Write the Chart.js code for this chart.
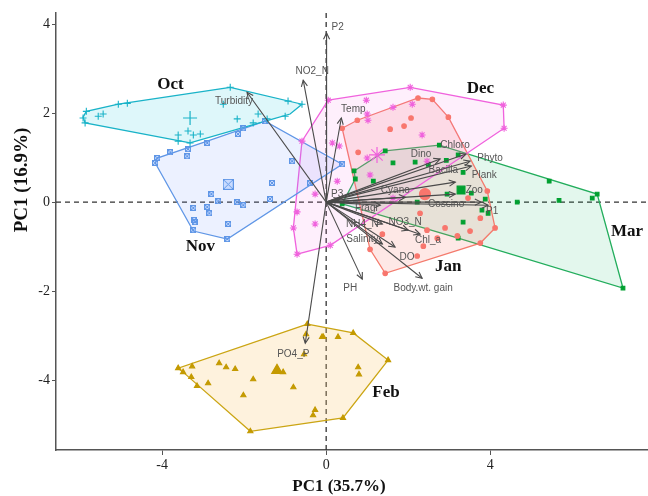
<!DOCTYPE html>
<html>
<head>
<meta charset="utf-8">
<script src="https://cdn.jsdelivr.net/npm/chart.js@4.4.0/dist/chart.umd.min.js"></script>
<style>
  html, body { margin: 0; padding: 0; background: #fff; }
  #wrap { width: 648px; height: 496px; }
</style>
</head>
<body>
<div id="wrap"><canvas id="pcaChart" width="648" height="496"></canvas></div>
<script>
// PCA scores per sampling month, [PC1, PC2]
const octPts = [[-5.56,1.93],[-5.44,1.98],[-5.07,2.20],[-4.85,2.22],[-3.61,1.51],[-3.37,1.60],[-3.24,1.51],[-3.07,1.53],[-3.61,1.37],[-2.51,2.20],[-2.17,1.87],[-1.78,1.78],[-1.66,1.98],[-1.44,1.87],[-1.00,1.93],[-0.93,2.27],[-0.59,2.20],[-2.34,2.58],[-5.93,1.89],[-5.88,1.78],[-5.85,2.04],[-3.32,1.33]];
const novPts = [[-4.17,0.88],[-4.12,0.99],[-3.80,1.12],[-3.39,1.03],[-3.37,1.19],[-2.90,1.33],[-2.15,1.53],[-2.02,1.66],[-1.49,1.82],[-0.83,0.92],[-1.32,0.43],[-2.80,0.18],[-2.63,0.02],[-2.17,0.00],[-2.02,-0.07],[-1.37,0.07],[-3.24,-0.13],[-2.90,-0.11],[-2.85,-0.25],[-3.22,-0.40],[-3.20,-0.45],[-2.39,-0.49],[-3.24,-0.63],[-2.41,-0.83],[-0.39,0.43],[0.39,0.85]];
const decPts = [[2.05,2.58],[0.05,2.29],[0.98,2.29],[1.63,2.13],[2.10,2.20],[1.00,1.98],[1.02,1.84],[4.32,2.18],[4.34,1.66],[2.34,1.51],[0.15,1.33],[0.32,1.26],[1.00,0.99],[2.46,0.92],[-0.59,1.37],[1.07,0.61],[0.27,0.47],[-0.27,0.18],[1.63,0.09],[-0.71,-0.22],[-0.80,-0.58],[-0.27,-0.49],[0.10,-0.97],[-0.71,-1.17]];
const janPts = [[0.39,1.66],[0.76,1.84],[1.56,1.64],[1.90,1.71],[2.07,1.89],[2.24,2.34],[2.59,2.31],[2.98,1.91],[0.78,1.12],[3.93,0.25],[4.12,-0.58],[3.46,0.09],[2.29,-0.25],[2.90,-0.58],[3.51,-0.65],[2.46,-0.63],[3.76,-0.92],[3.20,-0.76],[1.37,-0.72],[2.37,-0.99],[2.22,-1.21],[1.44,-1.60],[1.07,-1.06],[3.76,-0.36],[2.71,-0.81]];
const febPts = [[-0.46,-2.74],[-0.49,-2.97],[-0.10,-3.03],[-0.07,-3.03],[0.29,-3.03],[0.66,-2.94],[1.51,-3.55],[0.78,-3.71],[0.80,-3.87],[0.41,-4.85],[-0.27,-4.67],[-0.32,-4.79],[-1.85,-5.15],[-3.61,-3.73],[-3.49,-3.82],[-3.27,-3.69],[-3.29,-3.93],[-3.15,-4.13],[-2.88,-4.07],[-2.61,-3.62],[-2.44,-3.71],[-2.22,-3.75],[-1.05,-3.82],[-1.78,-3.98],[-2.02,-4.34],[-0.80,-4.16],[-0.54,-3.42]];
const marPts = [[1.44,1.15],[2.76,1.28],[1.63,0.88],[2.17,0.90],[2.49,0.85],[2.93,0.94],[3.22,1.06],[3.34,0.67],[0.68,0.70],[0.71,0.52],[1.15,0.47],[2.95,0.18],[3.54,0.20],[2.22,0.00],[0.39,-0.04],[3.88,0.07],[3.80,-0.18],[3.95,-0.25],[3.34,-0.45],[3.22,-0.81],[4.66,0.00],[5.44,0.47],[5.68,0.04],[6.49,0.09],[6.61,0.18],[7.24,-1.93]];

// convex hulls (closed)
const octHull = [[-2.34,2.58],[-0.59,2.20],[-0.88,1.98],[-1.29,1.87],[-3.32,1.33],[-5.88,1.78],[-5.93,1.91],[-5.85,2.04],[-5.07,2.20],[-2.34,2.58]];
const novHull = [[-4.17,0.88],[-4.12,0.99],[-2.90,1.37],[-1.49,1.82],[0.39,0.85],[-2.41,-0.83],[-3.24,-0.65],[-4.17,0.88]];
const decHull = [[0.05,2.29],[2.05,2.58],[4.32,2.18],[4.34,1.66],[0.10,-0.97],[-0.71,-1.17],[-0.80,-0.58],[-0.59,1.37],[0.05,2.29]];
const janHull = [[0.39,1.66],[0.76,1.84],[2.24,2.34],[2.59,2.31],[2.98,1.91],[3.93,0.25],[4.12,-0.58],[3.76,-0.92],[1.44,-1.60],[1.07,-1.06],[0.39,1.66]];
const febHull = [[-0.46,-2.74],[0.66,-2.94],[1.51,-3.55],[0.41,-4.85],[-1.85,-5.15],[-3.49,-3.82],[-3.61,-3.73],[-0.46,-2.74]];
const marHull = [[0.68,0.70],[1.44,1.15],[2.76,1.28],[6.61,0.18],[7.24,-1.93],[3.22,-0.81],[0.39,-0.04],[0.71,0.52],[0.68,0.70]];

// group means
const groupMeans = { Oct: [-3.32,1.89], Nov: [-2.39,0.40], Dec: [1.24,1.06], Jan: [2.41,0.18], Feb: [-1.20,-3.78], Mar: [3.29,0.27] };
const groupLabelAt = { Oct: [-3.80,2.65], Nov: [-3.07,-0.99], Dec: [3.76,2.56], Jan: [2.98,-1.44], Feb: [1.46,-4.29], Mar: [7.34,-0.67] };

// variable loadings (arrow tips)
const varNames = ['P2','NO2_N','Turbidity','Temp','Dino','Chloro','Phyto','Bacilla','Plank','Zoo','Coscino','P1','Cyano','P3','Fragi','NH4_N','NO3_N','Chl_a','Salinity','DO','Body.wt. gain','PH','PO4_P'];
const varTips = [[0.01,3.80],[-0.56,2.74],[-1.93,2.47],[0.37,1.89],[2.78,0.97],[3.41,1.08],[3.51,0.92],[3.54,0.81],[3.15,0.45],[3.15,0.18],[3.78,0.00],[3.95,-0.07],[1.93,0.11],[0.34,0.07],[1.32,-0.07],[1.37,-0.49],[2.00,-0.63],[2.29,-0.72],[1.37,-0.94],[1.68,-1.01],[2.34,-1.71],[0.88,-1.73],[-0.51,-3.17]];

const xTicks = [-4, 0, 4];
const yTicks = [-4, -2, 0, 2, 4];

// label nudges in px from arrow tip
const labelNudge = [[11,-6],[9,-9],[-13,9],[12,-9],[-19,-5],[-11,-9],[20,-3],[-28,4],[29,-7],[19,-4],[-35,2],[4,6],[-10,-7],[-3,-5],[-14,3],[-20,0],[-3,-8],[8,6],[-20,-5],[12,10],[1,10],[-12,9],[-12,11]];

const toXY = arr => arr.map(p => ({ x: p[0], y: p[1] }));

function boxCross(size, color) {
	const c = document.createElement('canvas');
	c.width = size; c.height = size;
	const g = c.getContext('2d');
	g.fillStyle = 'rgba(97,156,255,0.25)';
	g.fillRect(0, 0, size, size);
	g.strokeStyle = color;
	g.lineWidth = 1;
	g.strokeRect(0.5, 0.5, size - 1, size - 1);
	g.beginPath();
	g.moveTo(1, 1); g.lineTo(size - 1, size - 1);
	g.moveTo(size - 1, 1); g.lineTo(1, size - 1);
	g.stroke();
	return c;
}

const groups = [
	{ name: 'Oct', pts: octPts, hull: octHull, line: '#19B3C8', fill: 'rgba(0,190,215,0.13)', mark: '#19B3C8', style: 'cross', r: 3.5, rm: 7 },
	{ name: 'Nov', pts: novPts, hull: novHull, line: '#5F96E6', fill: 'rgba(97,140,255,0.12)', mark: '#5F96E6', style: boxCross(6, '#5F96E6'), r: 3, rm: 0, big: boxCross(11, '#5F96E6') },
	{ name: 'Dec', pts: decPts, hull: decHull, line: '#F062DD', fill: 'rgba(245,100,227,0.10)', mark: '#F062DD', style: 'star', r: 3.5, rm: 8 },
	{ name: 'Jan', pts: janPts, hull: janHull, line: '#F47A6C', fill: 'rgba(248,118,109,0.17)', mark: '#F8766D', style: 'circle', r: 2.3, rm: 5.5 },
	{ name: 'Feb', pts: febPts, hull: febHull, line: '#CBA513', fill: 'rgba(250,205,120,0.25)', mark: '#C49A00', style: 'triangle', r: 3, rm: 6 },
	{ name: 'Mar', pts: marPts, hull: marHull, line: '#22AD5C', fill: 'rgba(0,186,90,0.11)', mark: '#00A030', style: 'rect', r: 2.6, rm: 5.5 }
];

const datasets = [];
groups.forEach(g => {
	datasets.push({
		data: toXY(g.hull), showLine: true, fill: 'shape',
		borderColor: g.line, backgroundColor: g.fill, borderWidth: 1.3,
		pointRadius: 0, order: 10
	});
	datasets.push({
		data: toXY(g.pts), pointStyle: g.style, pointRadius: g.r,
		borderColor: g.mark, backgroundColor: g.mark, borderWidth: 1.1, order: 3
	});
	datasets.push({
		data: toXY([groupMeans[g.name]]), pointStyle: g.big || g.style, pointRadius: g.rm || 6,
		borderColor: g.mark, backgroundColor: g.mark, borderWidth: 1.2, order: 3
	});
});
varTips.forEach(t => {
	datasets.push({
		data: [{ x: 0, y: 0 }, { x: t[0], y: t[1] }], showLine: true,
		borderColor: '#4a4a4a', borderWidth: 1.1, pointRadius: 0, order: 1
	});
});

const biplotExtras = {
	id: 'biplotExtras',
	beforeDatasetsDraw(chart) {
		const { ctx, chartArea: a, scales: { x, y } } = chart;
		const x0 = x.getPixelForValue(0), y0 = y.getPixelForValue(0);
		ctx.save();
		ctx.strokeStyle = '#333';
		ctx.lineWidth = 1.3;
		ctx.setLineDash([5, 4]);
		ctx.beginPath();
		ctx.moveTo(a.left, y0); ctx.lineTo(a.right, y0);
		ctx.moveTo(x0, a.top); ctx.lineTo(x0, a.bottom);
		ctx.stroke();
		ctx.restore();
	},
	afterDatasetsDraw(chart) {
		const { ctx, scales: { x, y } } = chart;
		const ox = x.getPixelForValue(0), oy = y.getPixelForValue(0);
		ctx.save();
		// arrow heads
		ctx.strokeStyle = '#4a4a4a';
		ctx.lineWidth = 1.1;
		varTips.forEach(t => {
			const tx = x.getPixelForValue(t[0]), ty = y.getPixelForValue(t[1]);
			const ang = Math.atan2(ty - oy, tx - ox);
			ctx.beginPath();
			ctx.moveTo(tx - 7 * Math.cos(ang - 0.45), ty - 7 * Math.sin(ang - 0.45));
			ctx.lineTo(tx, ty);
			ctx.lineTo(tx - 7 * Math.cos(ang + 0.45), ty - 7 * Math.sin(ang + 0.45));
			ctx.stroke();
		});
		// variable labels
		ctx.fillStyle = '#555';
		ctx.font = '10px "Liberation Sans", Arial, sans-serif';
		ctx.textAlign = 'center';
		ctx.textBaseline = 'middle';
		varNames.forEach((n, i) => {
			const tx = x.getPixelForValue(varTips[i][0]), ty = y.getPixelForValue(varTips[i][1]);
			ctx.fillText(n, tx + labelNudge[i][0], ty + labelNudge[i][1]);
		});
		// group labels
		ctx.fillStyle = '#111';
		ctx.font = 'bold 17px "Liberation Serif", "Times New Roman", serif';
		Object.keys(groupLabelAt).forEach(k => {
			const p = groupLabelAt[k];
			ctx.fillText(k, x.getPixelForValue(p[0]), y.getPixelForValue(p[1]));
		});
		ctx.restore();
	},
	afterDraw(chart) {
		const { ctx } = chart;
		ctx.save();
		ctx.fillStyle = '#111';
		ctx.font = 'bold 17px "Liberation Serif", "Times New Roman", serif';
		ctx.textAlign = 'center';
		ctx.textBaseline = 'middle';
		ctx.fillText('PC1 (35.7%)', 339, 487);
		ctx.font = 'bold 19px "Liberation Serif", "Times New Roman", serif';
		ctx.translate(22, 180);
		ctx.rotate(-Math.PI / 2);
		ctx.fillText('PC1 (16.9%)', 0, 0);
		ctx.restore();
	}
};

const tickFont = { family: '"Liberation Serif", "Times New Roman", serif', size: 14 };

new Chart(document.getElementById('pcaChart').getContext('2d'), {
	type: 'scatter',
	data: { datasets: datasets },
	options: {
		responsive: false,
		animation: false,
		layout: { autoPadding: false, padding: { top: 13, right: 0, left: 0, bottom: 0 } },
		plugins: { legend: { display: false }, tooltip: { enabled: false } },
		scales: {
			x: {
				type: 'linear', min: -6.59, max: 7.85,
				afterBuildTicks: s => { s.ticks = xTicks.map(v => ({ value: v })); },
				afterFit: s => { s.height = 46; },
				ticks: { font: tickFont, color: '#222', padding: 2 },
				grid: { drawOnChartArea: false, tickLength: 5, color: '#555' },
				border: { color: '#555', width: 1.5 }
			},
			y: {
				type: 'linear', min: -5.57, max: 4.25,
				afterBuildTicks: s => { s.ticks = yTicks.map(v => ({ value: v })); },
				afterFit: s => { s.width = 56; },
				ticks: { font: tickFont, color: '#222', padding: 2 },
				grid: { drawOnChartArea: false, tickLength: 4, color: '#555' },
				border: { color: '#555', width: 1.5 }
			}
		}
	},
	plugins: [biplotExtras]
});
</script>
</body>
</html>
